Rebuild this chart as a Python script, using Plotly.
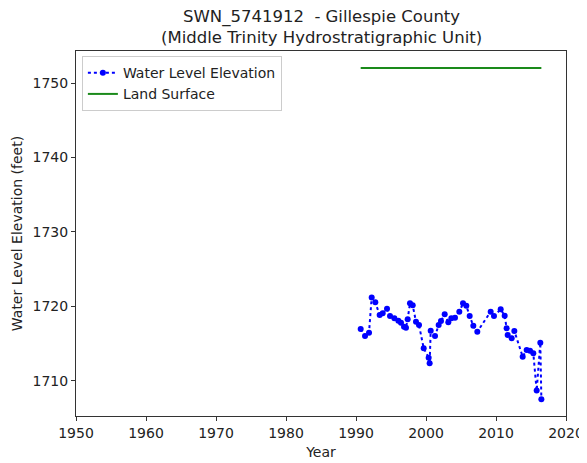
import plotly.graph_objects as go

# water level measurements (decimal year, elevation in feet)
years = [
    1990.67, 1991.29, 1991.86, 1992.24, 1992.76, 1993.38, 1993.81, 1994.43,
    1994.86, 1995.48, 1996.05, 1996.43, 1996.86, 1997.14, 1997.38, 1997.71,
    1998.10, 1998.57, 1999.00, 1999.67, 2000.38, 2000.52, 2000.67, 2001.29,
    2001.81, 2002.14, 2002.67, 2003.19, 2003.62, 2004.14, 2004.76, 2005.29,
    2005.76, 2006.24, 2006.76, 2007.33, 2009.24, 2009.71, 2010.67, 2011.24,
    2011.52, 2011.67, 2012.24, 2012.62, 2013.81, 2014.38, 2014.86, 2015.33,
    2015.81, 2016.33, 2016.48,
]
levels = [
    1716.94, 1716.00, 1716.44, 1721.19, 1720.52, 1718.82, 1719.05, 1719.67,
    1718.68, 1718.37, 1718.05, 1717.79, 1717.25, 1717.11, 1718.24, 1720.39,
    1720.12, 1717.92, 1717.47, 1714.35, 1713.09, 1712.33, 1716.71, 1716.00,
    1717.47, 1718.01, 1718.91, 1717.84, 1718.37, 1718.46, 1719.26, 1720.39,
    1720.07, 1718.68, 1717.38, 1716.58, 1719.26, 1718.68, 1719.58, 1718.72,
    1717.03, 1716.13, 1715.69, 1716.67, 1713.22, 1714.12, 1714.03, 1713.68,
    1708.66, 1715.10, 1707.50,
]
land_years = [1990.67, 2016.48]
land_surface = [1752, 1752]

font = "DejaVu Sans"
ink = "#222222"

fig = go.Figure()
fig.add_trace(
    go.Scatter(
        x=years,
        y=levels,
        mode="lines+markers",
        name="Water Level Elevation",
        line=dict(color="#0000ff", width=2, dash="dot"),
        marker=dict(color="#0000ff", size=6),
    )
)
fig.add_trace(
    go.Scatter(
        x=land_years,
        y=land_surface,
        mode="lines",
        name="Land Surface",
        line=dict(color="#1a8a1a", width=2),
    )
)

axis_common = dict(
    showgrid=False,
    zeroline=False,
    showline=True,
    linecolor="#333333",
    linewidth=1,
    mirror=True,
    ticks="outside",
    ticklen=4,
    tickcolor="#333333",
    tickfont=dict(family=font, size=14, color=ink),
    automargin=False,
)

# the page body adds an 8px offset, margins below account for it
fig.update_layout(
    width=587,
    height=463,
    paper_bgcolor="white",
    plot_bgcolor="white",
    margin=dict(l=68, r=29, t=43, b=55),
    xaxis=dict(
        axis_common,
        range=[1950, 2020],
        tickvals=[1950, 1960, 1970, 1980, 1990, 2000, 2010, 2020],
        title=dict(text="Year", font=dict(family=font, size=14, color=ink), standoff=7),
    ),
    yaxis=dict(
        axis_common,
        range=[1705.25, 1754.3],
        tickvals=[1710, 1720, 1730, 1740, 1750],
        title=dict(
            text="Water Level Elevation (feet)",
            font=dict(family=font, size=14, color=ink),
            standoff=6,
        ),
    ),
    legend=dict(
        x=0.012,
        y=0.986,
        xanchor="left",
        yanchor="top",
        bgcolor="white",
        bordercolor="#cccccc",
        borderwidth=1,
        font=dict(family=font, size=14, color=ink),
        tracegroupgap=0,
    ),
)
fig.add_annotation(
    text="SWN_5741912  - Gillespie County<br>(Middle Trinity Hydrostratigraphic Unit)",
    xref="paper",
    yref="paper",
    x=0.5,
    y=1,
    xanchor="center",
    yanchor="bottom",
    yshift=2,
    showarrow=False,
    font=dict(family=font, size=16.5, color=ink),
)

fig.write_html("out.html")
